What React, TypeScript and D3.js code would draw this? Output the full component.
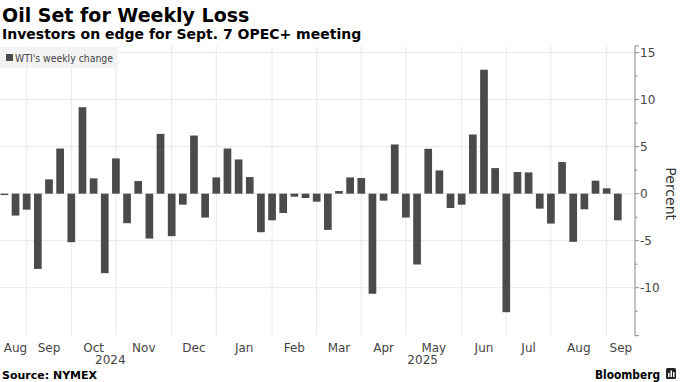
import React from "react";
import * as d3 from "d3";

const weeks: string[] = [
  "2024-08-16", "2024-08-23", "2024-08-30", "2024-09-06", "2024-09-13", "2024-09-20", "2024-09-27",
  "2024-10-04", "2024-10-11", "2024-10-18", "2024-10-25", "2024-11-01", "2024-11-08", "2024-11-15",
  "2024-11-22", "2024-11-29", "2024-12-06", "2024-12-13", "2024-12-20", "2024-12-27",
  "2025-01-03", "2025-01-10", "2025-01-17", "2025-01-24", "2025-01-31", "2025-02-07", "2025-02-14",
  "2025-02-21", "2025-02-28", "2025-03-07", "2025-03-14", "2025-03-21", "2025-03-28", "2025-04-04",
  "2025-04-11", "2025-04-18", "2025-04-25", "2025-05-02", "2025-05-09", "2025-05-16", "2025-05-23",
  "2025-05-30", "2025-06-06", "2025-06-13", "2025-06-20", "2025-06-27", "2025-07-04", "2025-07-11",
  "2025-07-18", "2025-07-25", "2025-08-01", "2025-08-08", "2025-08-15", "2025-08-22", "2025-08-29",
  "2025-09-05",
];

const weeklyChange: number[] = [
  -0.15, -2.33, -1.7, -8.0, 1.52, 4.8, -5.16, 9.19, 1.63, -8.45, 3.75, -3.14, 1.34, -4.77,
  6.36, -4.52, -1.17, 6.18, -2.54, 1.73,
  4.8, 3.64, 1.77, -4.1, -2.83, -2.05, -0.32, -0.46, -0.85, -3.85, 0.28, 1.73, 1.66, -10.64,
  -0.74, 5.23, -2.54, -7.53, 4.77, 2.47, -1.52, -1.17, 6.29, 13.18, 2.72, -12.6, 2.3, 2.26,
  -1.59, -3.18, 3.36, -5.12, -1.66, 1.38, 0.57, -2.83,
];

const yTicks: number[] = [15, 10, 5, 0, -5, -10];
const yMinorTicks: number[] = [12.5, 7.5, 2.5, -2.5, -7.5, -12.5];
const monthNames: string[] = ["Jan", "Feb", "Mar", "Apr", "May", "Jun", "Jul", "Aug", "Sep", "Oct", "Nov", "Dec"];

const W = 680;
const H = 382;
const AXIS_X = 635;
const TOP = 46;
const BOTTOM = 335.7;
const FONT = "'DejaVu Sans', sans-serif";

export default function App() {
  const x = d3
    .scaleBand<string>()
    .domain(weeks)
    .range([-1.2, 623.4])
    .paddingInner(0.31)
    .paddingOuter(0.155);
  const y = d3.scaleLinear().domain([-15.1, 15.7]).range([BOTTOM, TOP]);
  const bw = x.bandwidth();
  const cx = (d: string) => (x(d) as number) + bw / 2;
  const parse = d3.timeParse("%Y-%m-%d");
  const dates = weeks.map((w) => parse(w) as Date);

  // gridlines at last week of each month
  const gridIdx: number[] = [];
  for (let i = 0; i < dates.length - 1; i++) {
    if (dates[i].getMonth() !== dates[i + 1].getMonth()) gridIdx.push(i);
  }
  const gridXs = gridIdx.map((i) => cx(weeks[i]));
  const bounds = [cx(weeks[0]), ...gridXs, AXIS_X];
  const monthLabels: { x: number; label: string }[] = [];
  const segStarts = [0, ...gridIdx.map((i) => i + 1)];
  for (let s = 0; s < bounds.length - 1; s++) {
    const d = dates[segStarts[s]];
    monthLabels.push({ x: (bounds[s] + bounds[s + 1]) / 2, label: monthNames[d.getMonth()] });
  }
  const years = Array.from(new Set(dates.map((d) => d.getFullYear())));
  const yearLabels = years.map((yr) => {
    const idx = dates.map((d, i) => (d.getFullYear() === yr ? i : -1)).filter((i) => i >= 0);
    return { x: (cx(weeks[idx[0]]) + cx(weeks[idx[idx.length - 1]])) / 2, label: String(yr) };
  });

  const barColor = "#4b4b4b";
  const gridColor = "#e8e8e8";
  const textColor = "#444";

  return (
    <svg
      width={W}
      height={H}
      viewBox={`0 0 ${W} ${H}`}
      style={{ position: "absolute", left: 0, top: 0, background: "#fff" }}
      fontFamily={FONT}
    >
      <text x={2} y={22} fontSize={19} fontWeight="bold" fill="#000">
        Oil Set for Weekly Loss
      </text>
      <text x={2} y={39} fontSize={14} fontWeight="bold" fill="#000">
        Investors on edge for Sept. 7 OPEC+ meeting
      </text>

      {/* horizontal grid */}
      {yTicks.map((t) => (
        <line key={"h" + t} x1={0} x2={AXIS_X} y1={y(t)} y2={y(t)} stroke={gridColor} strokeWidth={1} />
      ))}
      {/* vertical grid */}
      {gridXs.map((gx, i) => (
        <line key={"v" + i} x1={gx} x2={gx} y1={TOP} y2={BOTTOM} stroke={gridColor} strokeWidth={1} />
      ))}

      {/* legend */}
      <rect x={0} y={47} width={118} height={21} fill="#f3f3f3" />
      <rect x={6} y={54} width={7} height={7} fill={barColor} />
      <text x={15} y={61.5} fontSize={10} textLength={98} lengthAdjust="spacingAndGlyphs" fill={textColor}>
        WTI's weekly change
      </text>

      {/* bars */}
      {weeklyChange.map((v, i) => {
        const y0 = y(0);
        const yv = y(v);
        return (
          <rect
            key={"b" + i}
            x={x(weeks[i]) as number}
            width={bw}
            y={Math.min(y0, yv)}
            height={Math.max(1, Math.abs(yv - y0))}
            fill={barColor}
          />
        );
      })}

      {/* y axis */}
      <line x1={AXIS_X} x2={AXIS_X} y1={TOP} y2={BOTTOM} stroke="#888" strokeWidth={1} />
      <line x1={AXIS_X} x2={AXIS_X + 4} y1={TOP} y2={TOP} stroke="#888" strokeWidth={1} />
      <line x1={AXIS_X} x2={AXIS_X + 4} y1={BOTTOM} y2={BOTTOM} stroke="#888" strokeWidth={1} />
      {yTicks.map((t) => (
        <g key={"t" + t}>
          <line x1={AXIS_X} x2={AXIS_X + 4} y1={y(t)} y2={y(t)} stroke="#888" strokeWidth={1} />
          <text x={AXIS_X + 5} y={y(t) + 4.5} fontSize={12} fill={textColor}>
            {t < 0 ? "-" + Math.abs(t) : String(t)}
          </text>
        </g>
      ))}
      {yMinorTicks.map((t) => (
        <line key={"m" + t} x1={AXIS_X} x2={AXIS_X + 2.5} y1={y(t)} y2={y(t)} stroke="#888" strokeWidth={1} />
      ))}
      <text
        transform={`translate(666, ${y(0)}) rotate(90)`}
        textAnchor="middle"
        fontSize={14}
        fill="#333"
      >
        Percent
      </text>

      {/* x labels */}
      {monthLabels.map((m, i) => (
        <text key={"ml" + i} x={m.x} y={352} textAnchor="middle" fontSize={12} fill={textColor}>
          {m.label}
        </text>
      ))}
      {yearLabels.map((m, i) => (
        <text key={"yl" + i} x={m.x} y={364} textAnchor="middle" fontSize={12} fill={textColor}>
          {m.label}
        </text>
      ))}

      {/* footer */}
      <text x={2} y={379} fontSize={11} fontWeight="bold" fill="#000">
        Source: NYMEX
      </text>
      <text
        x={595}
        y={379}
        fontSize={13}
        fontWeight="bold"
        textLength={65}
        lengthAdjust="spacingAndGlyphs"
        fill="#000"
      >
        Bloomberg
      </text>
      <rect x={666} y={368} width={10} height={11} rx={1.5} fill="#222" />
      <rect x={668} y={373} width={1.5} height={4} fill="#fff" />
      <rect x={670.5} y={370.5} width={1.5} height={6.5} fill="#fff" />
      <rect x={673} y={372} width={1.5} height={5} fill="#fff" />
    </svg>
  );
}
